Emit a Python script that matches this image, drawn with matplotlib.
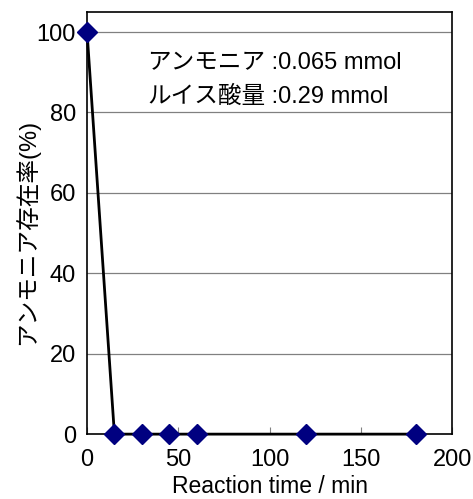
import matplotlib
matplotlib.use("Agg")
import matplotlib.pyplot as plt

plt.rcParams['font.family'] = ['Liberation Sans', 'Noto Sans CJK JP', 'DejaVu Sans']

time_min = [0, 15, 30, 45, 60, 120, 180]
ammonia_pct = [100, 0, 0, 0, 0, 0, 0]
x_ticks = [0, 50, 100, 150, 200]
y_ticks = [0, 20, 40, 60, 80, 100]

fig = plt.figure(figsize=(4.73, 4.99), dpi=100)
ax = fig.add_axes([0.184, 0.130, 0.772, 0.846])

for y in y_ticks[1:]:
    ax.axhline(y, color='#808080', lw=0.9, zorder=1)

ax.plot(time_min, ammonia_pct, color='black', lw=2.0, zorder=3, clip_on=False)
ax.plot(time_min, ammonia_pct, linestyle='none', marker='D', markersize=10.5,
        color='#000080', zorder=4, clip_on=False)

ax.set_xlim(0, 200)
ax.set_ylim(0, 105)
ax.set_xticks(x_ticks)
ax.set_yticks(y_ticks)
ax.tick_params(axis='x', direction='in', length=5, labelsize=17, pad=11, width=0.8, color='#808080')
ax.tick_params(axis='y', length=0, labelsize=17, pad=8)
for s in ax.spines.values():
    s.set_linewidth(1.2)
    s.set_color('black')

ax.set_xlabel('Reaction time / min', fontsize=16.5)
ax.xaxis.set_label_coords(0.5, -0.097)
ax.set_ylabel('アンモニア存在率(%)', fontsize=17)
ax.yaxis.set_label_coords(-0.13, 0.48)

t1 = ax.text(33, 92.2, 'アンモニア', fontsize=17, va='center', ha='left', zorder=5)
ax.annotate(' :0.065 mmol', xy=(1, 0.5), xycoords=t1, fontsize=17, va='center', ha='left', zorder=5)
t2 = ax.text(33, 83.8, 'ルイス酸量', fontsize=17, va='center', ha='left', zorder=5)
ax.annotate(' :0.29 mmol', xy=(1, 0.5), xycoords=t2, fontsize=17, va='center', ha='left', zorder=5)

fig.savefig('out.png', dpi=100)
